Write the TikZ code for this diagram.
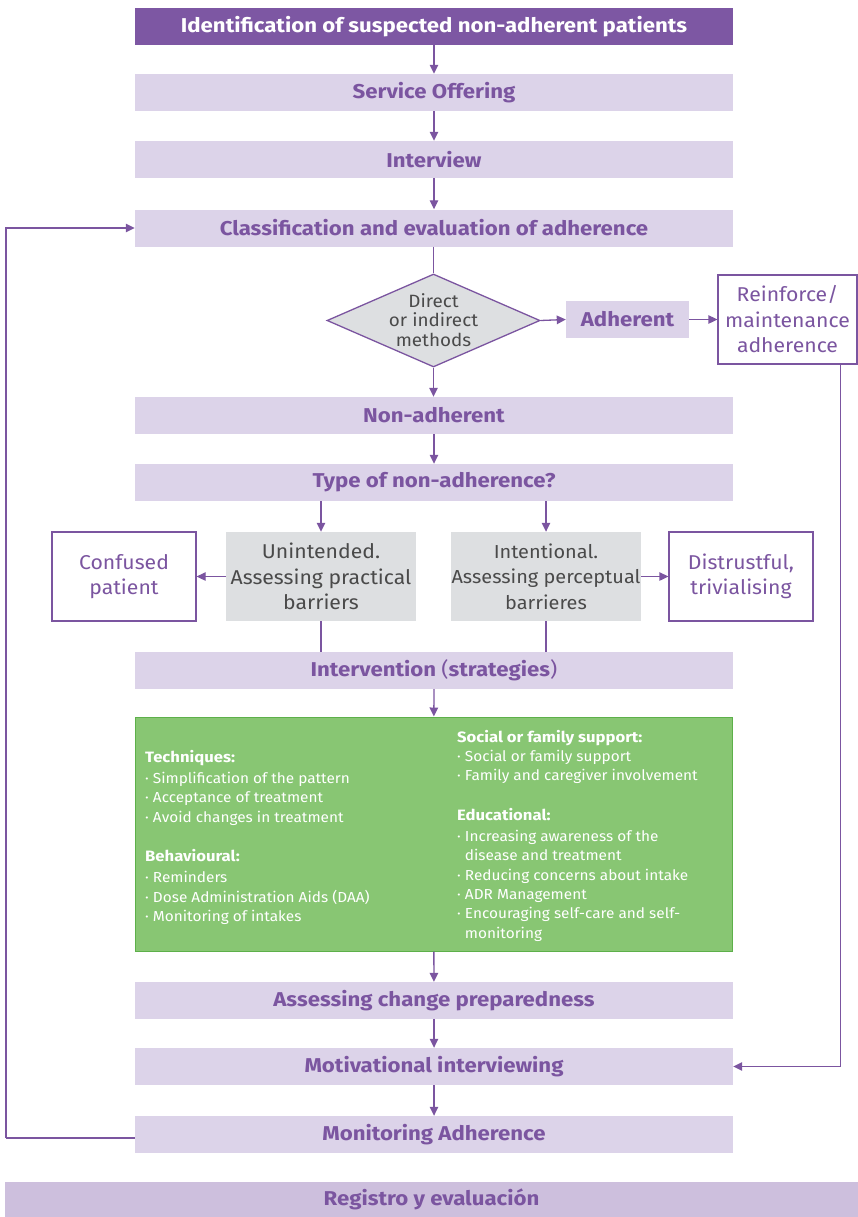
\documentclass[tikz,border=0pt]{standalone}
\usepackage{fontspec}
\setmainfont{Fira Sans}
\newfontfamily\hfont[FakeStretch=1.11]{Fira Sans}
\newfontfamily\rfont[FakeStretch=1.06]{Fira Sans}
\usetikzlibrary{shapes.geometric,arrows.meta}
\definecolor{dpurple}{HTML}{7D57A3}
\definecolor{lpurple}{HTML}{DCD3E9}
\definecolor{tpurple}{HTML}{7B55A0}
\definecolor{regpurple}{HTML}{CDBFDD}
\definecolor{lgray}{HTML}{DDDFE1}
\definecolor{tgray}{HTML}{4A4A4A}
\definecolor{lgreen}{HTML}{88C673}
\definecolor{bgreen}{HTML}{5DB04A}
\begin{document}
\begin{tikzpicture}[x=1pt,y=-1pt,
  topbox/.style={fill=dpurple, minimum width=598pt, minimum height=37pt, inner sep=0pt, text=white, font=\hfont\bfseries\fontsize{20}{22}\selectfont},
  hdr/.style={fill=lpurple, minimum width=598pt, minimum height=37pt, inner sep=0pt, text=tpurple, font=\hfont\bfseries\fontsize{20}{22}\selectfont},
  wbox/.style={draw=tpurple, line width=1.3pt, fill=white, minimum height=89pt, inner sep=0pt, align=center, text=tpurple, font=\rfont\fontsize{20}{25.5}\selectfont},
  gbox/.style={fill=lgray, minimum width=190pt, minimum height=89pt, inner sep=0pt, align=center, text=tgray, font=\rfont\fontsize{20}{25.5}\selectfont},
  dia/.style={diamond, draw=tpurple, line width=1.3pt, fill=lgray, minimum width=213pt, minimum height=93pt, inner sep=0pt},
  diatxt/.style={inner sep=0pt, align=center, text=tgray, font=\rfont\fontsize{17.8}{19.5}\selectfont},
  greentxt/.style={inner sep=0pt, align=left, text=white, font=\rfont\fontsize{14.5}{19.3}\selectfont},
  arr/.style={draw=tpurple, line width=1.3pt, -{Triangle[length=9pt,width=8.5pt]}},
  ln/.style={draw=tpurple, line width=1.3pt}
]
\useasboundingbox (0,0) rectangle (858,1217);
\newcommand{\gh}[1]{{\hfont\bfseries\fontsize{15}{19.3}\selectfont #1}}

\node[topbox] (ident) at (434,26.5) {Identification of suspected non-adherent patients};
\node[hdr] (serv) at (434,92.5) {Service Offering};
\node[hdr] (intw) at (434,159.5) {Interview};
\node[hdr] (classif) at (434,228) {Classification and evaluation of adherence};
\node[dia] (dia) at (433.5,320.5) {};
\node[diatxt] (diatext) at (433.5,320) {Direct\\or indirect\\methods};
\node[hdr, minimum width=123pt] (adh) at (627.5,319.5) {Adherent};
\node[wbox, minimum width=139pt] (reinf) at (787.5,319.5) {Reinforce/\\maintenance\\adherence};
\node[hdr] (nonadh) at (434,415.5) {Non-adherent};
\node[hdr] (type) at (434,482.5) {Type of non-adherence?};
\node[gbox] (unint) at (321,576.5) {Unintended.\\Assessing practical\\barriers};
\node[gbox, font=\rfont\fontsize{18.8}{25.5}\selectfont] (intent) at (546,576.5) {Intentional.\\Assessing perceptual\\barrieres};
\node[wbox, minimum width=144pt] (conf) at (124,576.5) {Confused\\patient};
\node[wbox, minimum width=144pt] (distr) at (741,576.5) {Distrustful,\\trivialising};
\node[hdr] (strathdr) at (434,670.5) {Intervention {\mdseries(}strategies{\mdseries)}};
\node[draw=bgreen, line width=1pt, fill=lgreen, minimum width=597pt, minimum height=234pt, inner sep=0pt] (strat) at (433.5,834) {};
\node[greentxt, anchor=north west] (leftcol) at (145,750) {\gh{Techniques:}\\[2pt]
· Simplification of the pattern\\
· Acceptance of treatment\\
· Avoid changes in treatment\\[20pt]
\gh{Behavioural:}\\[2pt]
· Reminders\\
· Dose Administration Aids (DAA)\\
· Monitoring of intakes};
\node[greentxt, anchor=north west] (rightcol) at (457,730) {\gh{Social or family support:}\\
· Social or family support\\
· Family and caregiver involvement\\[20pt]
\gh{Educational:}\\[2pt]
· Increasing awareness of the\\
\hphantom{· }disease and treatment\\
· Reducing concerns about intake\\
· ADR Management\\
· Encouraging self-care and self-\\
\hphantom{· }monitoring};
\node[hdr] (prep) at (434,1000.5) {Assessing change preparedness};
\node[hdr] (motiv) at (434,1066.5) {Motivational interviewing};
\node[hdr] (monit) at (434,1134.5) {Monitoring Adherence};
\node[fill=regpurple, minimum width=853pt, minimum height=35pt, inner sep=0pt, text=tpurple, font=\hfont\bfseries\fontsize{20}{22}\selectfont] (reg) at (431.5,1199.5) {Registro y evaluación};

\draw[arr] (ident) -- (serv);
\draw[arr] (serv) -- (intw);
\draw[arr] (intw) -- (classif);
\draw[ln] (classif.south -| dia.north) -- (dia.north);
\draw[arr] (dia.east) -- (adh.west);
\draw[arr] (adh.east) -- (reinf.west);
\draw[arr] (dia.south) -- (nonadh.north -| dia.south);
\draw[arr] (nonadh) -- (type);
\draw[arr] (type.south -| unint.north) -- (unint.north);
\draw[arr] (type.south -| intent.north) -- (intent.north);
\draw[arr] (unint.west) -- (conf.east);
\draw[arr] (intent.east) -- (distr.west);
\draw[ln] (unint.south) -- (strathdr.north -| unint.south);
\draw[ln] (intent.south) -- (strathdr.north -| intent.south);
\draw[arr] (strathdr) -- (strat);
\draw[arr] (strat) -- (prep);
\draw[arr] (prep) -- (motiv);
\draw[arr] (motiv) -- (monit);
\draw[arr] ([xshift=53pt]reinf.south) |- (motiv.east);
\coordinate (lb) at (6,1138);
\draw[ln] (monit.west |- lb) -- (lb);
\draw[arr] (lb) |- (classif.west);
\end{tikzpicture}
\end{document}
